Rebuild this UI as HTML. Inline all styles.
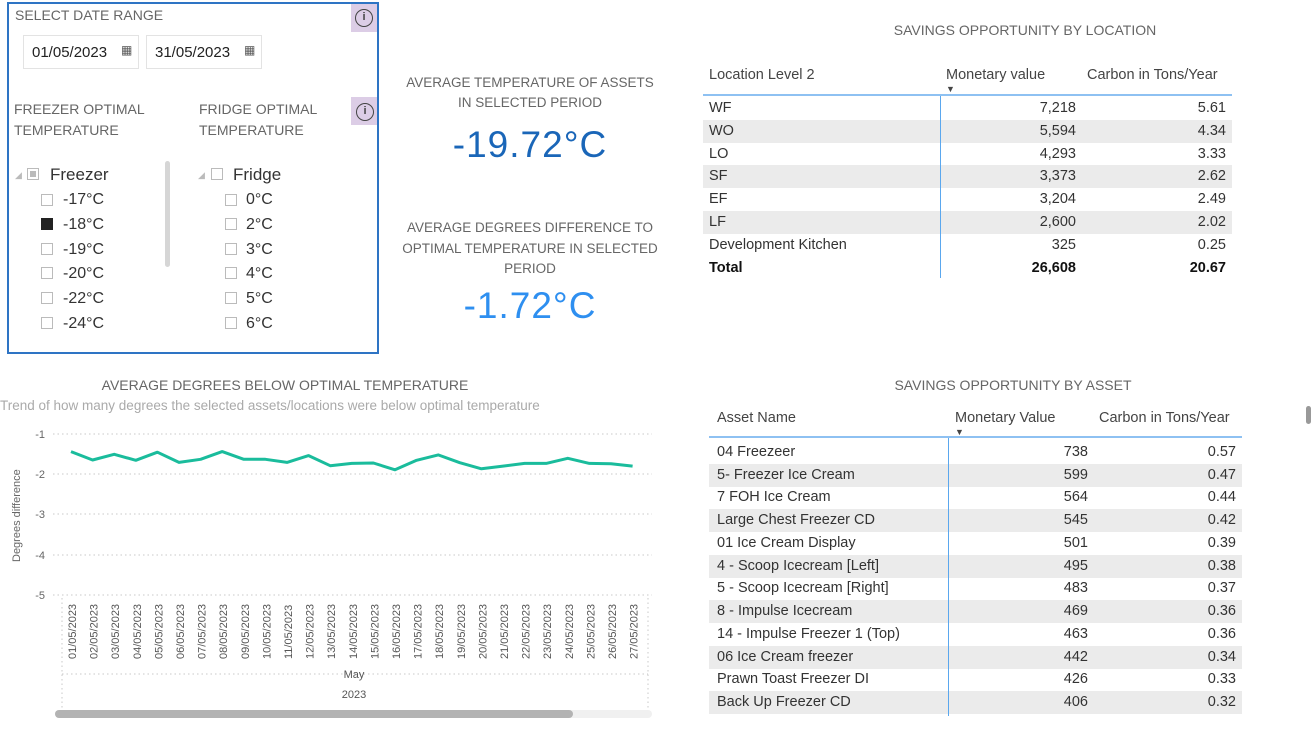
<!DOCTYPE html>
<html><head><meta charset="utf-8"><style>
*{margin:0;padding:0;box-sizing:border-box}
body{width:1314px;height:730px;background:#fff;position:relative;overflow:hidden;font-family:"Liberation Sans",sans-serif;color:#333}
.a{position:absolute;white-space:nowrap}
.t{color:#666;font-size:14px}
.cap{color:#666;font-size:13.5px;text-align:center}
.cb{position:absolute;width:12px;height:12px;border:1px solid #bbb;background:#fff}
.it{font-size:16px;color:#333}
.row{position:absolute;height:23px;font-size:14.5px;color:#333}
.row span{position:absolute;top:3px}
.sh{background:#ebebeb}
</style></head><body>

<!-- slicer box -->
<div class="a" style="left:7px;top:2px;width:372px;height:352px;border:2px solid #2e74c4"></div>
<div class="a t" style="left:15px;top:7px">SELECT DATE RANGE</div>
<div class="a" style="left:351px;top:4px;width:26px;height:28px;background:#dccde6"></div>
<div class="a" style="left:355px;top:9px;width:18px;height:18px;border:1.5px solid #444;border-radius:50%;font-size:11px;text-align:center;line-height:15px;font-weight:bold;color:#444">i</div>
<div class="a" style="left:23px;top:35px;width:116px;height:34px;border:1px solid #e3e3e3"></div>
<div class="a" style="left:32px;top:44px;font-size:15px;color:#222">01/05/2023</div>
<div class="a" style="left:121px;top:43px;font-size:12px;color:#555">▦</div>
<div class="a" style="left:146px;top:35px;width:116px;height:34px;border:1px solid #e3e3e3"></div>
<div class="a" style="left:155px;top:44px;font-size:15px;color:#222">31/05/2023</div>
<div class="a" style="left:244px;top:43px;font-size:12px;color:#555">▦</div>
<div class="a t" style="left:14px;top:99px;line-height:21px">FREEZER OPTIMAL<br>TEMPERATURE</div>
<div class="a t" style="left:199px;top:99px;line-height:21px">FRIDGE OPTIMAL<br>TEMPERATURE</div>
<div class="a" style="left:351px;top:97px;width:26px;height:28px;background:#dccde6"></div>
<div class="a" style="left:356px;top:103px;width:18px;height:18px;border:1.5px solid #444;border-radius:50%;font-size:11px;text-align:center;line-height:15px;font-weight:bold;color:#444">i</div>
<div class="a" style="left:165px;top:161px;width:5px;height:106px;background:#d6d6d6;border-radius:3px"></div>
<div class="a" style="left:15px;top:170px;font-size:9px;color:#bbb">◢</div>
<div class="cb" style="left:27px;top:168px"><div style="margin:2px;width:6px;height:6px;background:#bbb"></div></div>
<div class="a it" style="left:50px;top:165px;font-size:17px">Freezer</div>
<div class="a" style="left:198px;top:170px;font-size:9px;color:#bbb">◢</div>
<div class="cb" style="left:211px;top:168px"></div>
<div class="a it" style="left:233px;top:165px;font-size:17px">Fridge</div>

<div class="cb" style="left:41px;top:194px"></div><div class="a it" style="left:63px;top:191px">-17°C</div>
<div class="cb" style="left:41px;top:218px;background:#222;border-color:#222"></div><div class="a it" style="left:63px;top:216px">-18°C</div>
<div class="cb" style="left:41px;top:243px"></div><div class="a it" style="left:63px;top:241px">-19°C</div>
<div class="cb" style="left:41px;top:267px"></div><div class="a it" style="left:63px;top:265px">-20°C</div>
<div class="cb" style="left:41px;top:292px"></div><div class="a it" style="left:63px;top:290px">-22°C</div>
<div class="cb" style="left:41px;top:317px"></div><div class="a it" style="left:63px;top:315px">-24°C</div>
<div class="cb" style="left:225px;top:194px"></div><div class="a it" style="left:246px;top:191px">0°C</div>
<div class="cb" style="left:225px;top:218px"></div><div class="a it" style="left:246px;top:216px">2°C</div>
<div class="cb" style="left:225px;top:243px"></div><div class="a it" style="left:246px;top:241px">3°C</div>
<div class="cb" style="left:225px;top:267px"></div><div class="a it" style="left:246px;top:265px">4°C</div>
<div class="cb" style="left:225px;top:292px"></div><div class="a it" style="left:246px;top:290px">5°C</div>
<div class="cb" style="left:225px;top:317px"></div><div class="a it" style="left:246px;top:315px">6°C</div>

<!-- KPIs -->
<div class="a cap" style="left:380px;top:73px;width:300px;line-height:20px">AVERAGE TEMPERATURE OF ASSETS<br>IN SELECTED PERIOD</div>
<div class="a" style="left:380px;top:124px;width:300px;text-align:center;font-size:37px;color:#1a66b8;letter-spacing:1px">-19.72°C</div>
<div class="a cap" style="left:380px;top:218px;width:300px;line-height:20.5px">AVERAGE DEGREES DIFFERENCE TO<br>OPTIMAL TEMPERATURE IN SELECTED<br>PERIOD</div>
<div class="a" style="left:380px;top:285px;width:300px;text-align:center;font-size:37px;color:#2e8ff0;letter-spacing:1px">-1.72°C</div>

<!-- Location table -->
<div class="a cap" style="left:860px;top:22px;width:330px;font-size:14px">SAVINGS OPPORTUNITY BY LOCATION</div>
<div class="a" style="left:709px;top:67px;font-size:14.5px;color:#444">Location Level 2</div>
<div class="a" style="left:946px;top:67px;font-size:14.5px;color:#444">Monetary value</div>
<div class="a" style="left:946px;top:84px;font-size:9px;color:#444">▼</div>
<div class="a" style="left:1087px;top:67px;font-size:14.5px;color:#444">Carbon in Tons/Year</div>
<div class="a" style="left:703px;top:94px;width:529px;height:2px;background:#8ec1f2"></div>
<div class="row" style="left:703px;top:97px;width:529px"><span style="left:6px">WF</span><span style="right:156px">7,218</span><span style="right:6px">5.61</span></div>
<div class="row sh" style="left:703px;top:120px;width:529px"><span style="left:6px">WO</span><span style="right:156px">5,594</span><span style="right:6px">4.34</span></div>
<div class="row" style="left:703px;top:143px;width:529px"><span style="left:6px">LO</span><span style="right:156px">4,293</span><span style="right:6px">3.33</span></div>
<div class="row sh" style="left:703px;top:165px;width:529px"><span style="left:6px">SF</span><span style="right:156px">3,373</span><span style="right:6px">2.62</span></div>
<div class="row" style="left:703px;top:188px;width:529px"><span style="left:6px">EF</span><span style="right:156px">3,204</span><span style="right:6px">2.49</span></div>
<div class="row sh" style="left:703px;top:211px;width:529px"><span style="left:6px">LF</span><span style="right:156px">2,600</span><span style="right:6px">2.02</span></div>
<div class="row" style="left:703px;top:234px;width:529px"><span style="left:6px">Development Kitchen</span><span style="right:156px">325</span><span style="right:6px">0.25</span></div>
<div class="row" style="left:703px;top:257px;width:529px;font-weight:bold;color:#111"><span style="left:6px">Total</span><span style="right:156px">26,608</span><span style="right:6px">20.67</span></div>
<div class="a" style="left:940px;top:96px;width:1px;height:182px;background:#5aa7ee"></div>

<!-- Asset table -->
<div class="a cap" style="left:848px;top:377px;width:330px;font-size:14px">SAVINGS OPPORTUNITY BY ASSET</div>
<div class="a" style="left:717px;top:410px;font-size:14.5px;color:#444">Asset Name</div>
<div class="a" style="left:955px;top:410px;font-size:14.5px;color:#444">Monetary Value</div>
<div class="a" style="left:955px;top:427px;font-size:9px;color:#444">▼</div>
<div class="a" style="left:1099px;top:410px;font-size:14.5px;color:#444">Carbon in Tons/Year</div>
<div class="a" style="left:709px;top:436px;width:533px;height:2px;background:#8ec1f2"></div>
<div class="row" style="left:709px;top:441px;width:533px"><span style="left:8px">04 Freezeer</span><span style="right:154px">738</span><span style="right:6px">0.57</span></div>
<div class="row sh" style="left:709px;top:464px;width:533px"><span style="left:8px">5- Freezer Ice Cream</span><span style="right:154px">599</span><span style="right:6px">0.47</span></div>
<div class="row" style="left:709px;top:486px;width:533px"><span style="left:8px">7 FOH Ice Cream</span><span style="right:154px">564</span><span style="right:6px">0.44</span></div>
<div class="row sh" style="left:709px;top:509px;width:533px"><span style="left:8px">Large Chest Freezer CD</span><span style="right:154px">545</span><span style="right:6px">0.42</span></div>
<div class="row" style="left:709px;top:532px;width:533px"><span style="left:8px">01 Ice Cream Display</span><span style="right:154px">501</span><span style="right:6px">0.39</span></div>
<div class="row sh" style="left:709px;top:555px;width:533px"><span style="left:8px">4 - Scoop Icecream [Left]</span><span style="right:154px">495</span><span style="right:6px">0.38</span></div>
<div class="row" style="left:709px;top:577px;width:533px"><span style="left:8px">5 - Scoop Icecream [Right]</span><span style="right:154px">483</span><span style="right:6px">0.37</span></div>
<div class="row sh" style="left:709px;top:600px;width:533px"><span style="left:8px">8 - Impulse Icecream</span><span style="right:154px">469</span><span style="right:6px">0.36</span></div>
<div class="row" style="left:709px;top:623px;width:533px"><span style="left:8px">14 - Impulse Freezer 1 (Top)</span><span style="right:154px">463</span><span style="right:6px">0.36</span></div>
<div class="row sh" style="left:709px;top:646px;width:533px"><span style="left:8px">06 Ice Cream freezer</span><span style="right:154px">442</span><span style="right:6px">0.34</span></div>
<div class="row" style="left:709px;top:668px;width:533px"><span style="left:8px">Prawn Toast Freezer DI</span><span style="right:154px">426</span><span style="right:6px">0.33</span></div>
<div class="row sh" style="left:709px;top:691px;width:533px"><span style="left:8px">Back Up Freezer CD</span><span style="right:154px">406</span><span style="right:6px">0.32</span></div>
<div class="a" style="left:948px;top:438px;width:1px;height:278px;background:#5aa7ee"></div>
<div class="a" style="left:1306px;top:406px;width:5px;height:18px;background:#999;border-radius:3px"></div>

<!-- Line chart -->
<div class="a cap" style="left:30px;top:377px;width:510px;font-size:14px">AVERAGE DEGREES BELOW OPTIMAL TEMPERATURE</div>
<div class="a" style="left:0;top:398px;font-size:13.5px;color:#aaa">Trend of how many degrees the selected assets/locations were below optimal temperature</div>
<svg class="a" style="left:0;top:0" width="700" height="730">
<g stroke="#c8c8c8" stroke-dasharray="1.5,3" stroke-width="1">
<line x1="53" y1="434" x2="652" y2="434"/><line x1="53" y1="474" x2="652" y2="474"/><line x1="53" y1="514" x2="652" y2="514"/><line x1="53" y1="555" x2="652" y2="555"/><line x1="53" y1="595" x2="652" y2="595"/>
<line x1="62" y1="598" x2="62" y2="708"/><line x1="648" y1="598" x2="648" y2="708"/><line x1="62" y1="674" x2="648" y2="674"/>
</g>
<g font-family="Liberation Sans" font-size="11" fill="#666" text-anchor="end">
<text x="45" y="438">-1</text><text x="45" y="478">-2</text><text x="45" y="518">-3</text><text x="45" y="559">-4</text><text x="45" y="599">-5</text>
</g>
<text transform="translate(20,562) rotate(-90)" font-family="Liberation Sans" font-size="11" fill="#666">Degrees difference</text>
<polyline fill="none" stroke="#1abc9c" stroke-width="3" stroke-linejoin="round" points="71,451.6 92.6,460 114.2,454.3 135.8,460.3 157.4,452.2 179,462.4 200.6,459.3 222.2,451.6 243.8,459.3 265.4,459.3 287,462.4 308.6,455.6 330.2,465.7 351.8,463.4 373.4,463 395,469.8 416.6,460.3 438.2,454.9 459.8,462.7 481.4,468.8 503,466.1 524.6,463.4 546.2,463.4 567.8,458.3 589.4,463.4 611,463.7 632.6,466.1"/>
<g font-family="Liberation Sans" font-size="11" fill="#555">
<text transform="translate(76,659) rotate(-90)">01/05/2023</text><text transform="translate(97.6,659) rotate(-90)">02/05/2023</text><text transform="translate(119.2,659) rotate(-90)">03/05/2023</text><text transform="translate(140.8,659) rotate(-90)">04/05/2023</text><text transform="translate(162.4,659) rotate(-90)">05/05/2023</text><text transform="translate(184,659) rotate(-90)">06/05/2023</text><text transform="translate(205.6,659) rotate(-90)">07/05/2023</text><text transform="translate(227.2,659) rotate(-90)">08/05/2023</text><text transform="translate(248.8,659) rotate(-90)">09/05/2023</text><text transform="translate(270.4,659) rotate(-90)">10/05/2023</text><text transform="translate(292,659) rotate(-90)">11/05/2023</text><text transform="translate(313.6,659) rotate(-90)">12/05/2023</text><text transform="translate(335.2,659) rotate(-90)">13/05/2023</text><text transform="translate(356.8,659) rotate(-90)">14/05/2023</text><text transform="translate(378.4,659) rotate(-90)">15/05/2023</text><text transform="translate(400,659) rotate(-90)">16/05/2023</text><text transform="translate(421.6,659) rotate(-90)">17/05/2023</text><text transform="translate(443.2,659) rotate(-90)">18/05/2023</text><text transform="translate(464.8,659) rotate(-90)">19/05/2023</text><text transform="translate(486.4,659) rotate(-90)">20/05/2023</text><text transform="translate(508,659) rotate(-90)">21/05/2023</text><text transform="translate(529.6,659) rotate(-90)">22/05/2023</text><text transform="translate(551.2,659) rotate(-90)">23/05/2023</text><text transform="translate(572.8,659) rotate(-90)">24/05/2023</text><text transform="translate(594.4,659) rotate(-90)">25/05/2023</text><text transform="translate(616,659) rotate(-90)">26/05/2023</text><text transform="translate(637.6,659) rotate(-90)">27/05/2023</text>
</g>
<text x="354" y="678" font-family="Liberation Sans" font-size="11" fill="#555" text-anchor="middle">May</text>
<text x="354" y="698" font-family="Liberation Sans" font-size="11" fill="#555" text-anchor="middle">2023</text>
<rect x="55" y="710" width="597" height="8" rx="4" fill="#f0f0f0"/>
<rect x="55" y="710" width="518" height="8" rx="4" fill="#b3b3b3"/>
</svg>
</body></html>
